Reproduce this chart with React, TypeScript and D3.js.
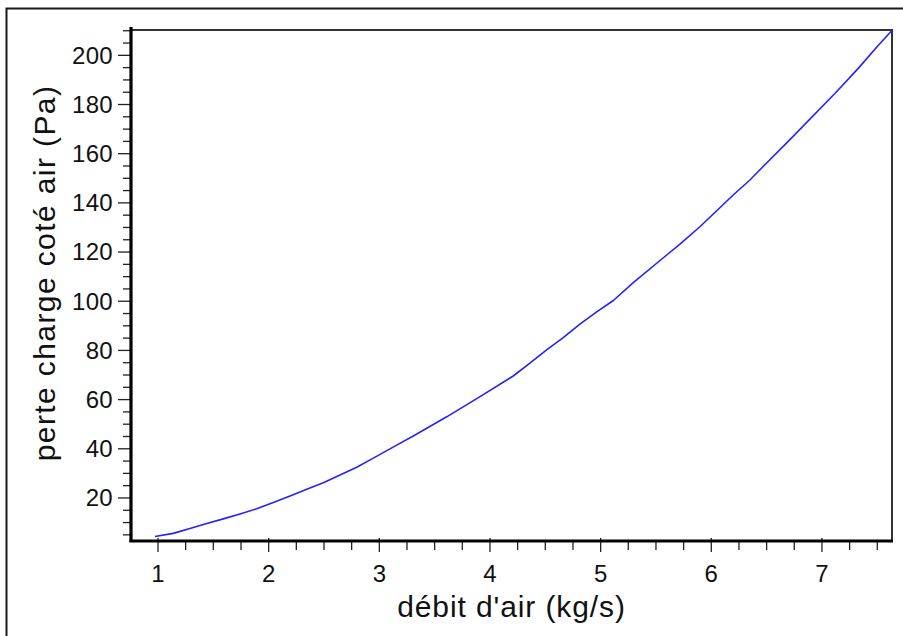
import React from "react";
import * as d3 from "d3";

// Air mass flow rate (kg/s) and air-side pressure drop (Pa)
const flowRate = [
  0.973, 1.138, 1.289, 1.44, 1.59, 1.741, 1.892, 2.042, 2.193, 2.344, 2.494,
  2.645, 2.796, 2.946, 3.157, 3.307, 3.609, 3.91, 4.21, 4.361, 4.512, 4.662,
  4.813, 4.964, 5.115, 5.295, 5.597, 5.717, 5.897, 6.198, 6.349, 6.5, 6.695,
  7.117, 7.328, 7.494, 7.63,
];
const pressureDrop = [
  4.3, 5.6, 7.6, 9.6, 11.5, 13.5, 15.6, 18.2, 20.8, 23.5, 26.2, 29.3, 32.5,
  36.2, 41.5, 45.2, 53.0, 61.2, 69.6, 74.8, 80.2, 85.2, 90.7, 95.7, 100.3,
  107.6, 118.8, 123.2, 130.3, 143.2, 149.3, 156.2, 165.0, 184.5, 194.7, 203.3,
  210.0,
];

const xMajorTicks = [1, 2, 3, 4, 5, 6, 7];
const yMajorTicks = [20, 40, 60, 80, 100, 120, 140, 160, 180, 200];
const xLabel = "débit d'air (kg/s)";
const yLabel = "perte charge coté air (Pa)";

const X_DOMAIN: [number, number] = [0.756, 7.633];
const Y_DOMAIN: [number, number] = [2.5, 210.3];

const W = 903;
const H = 636;
const plot = { left: 131, right: 892, top: 30, bottom: 541 };
const FONT = "'Liberation Sans', Arial, Helvetica, sans-serif";

export default function App() {
  const x = d3.scaleLinear().domain(X_DOMAIN).range([plot.left, plot.right]);
  const y = d3.scaleLinear().domain(Y_DOMAIN).range([plot.bottom, plot.top]);

  const points: [number, number][] = flowRate.map((v, i) => [v, pressureDrop[i]]);
  const line = d3
    .line<[number, number]>()
    .x((d) => x(d[0]))
    .y((d) => y(d[1]));

  const xMinor = d3
    .range(0.75, 7.76, 0.25)
    .filter((v) => v >= X_DOMAIN[0] && v <= X_DOMAIN[1])
    .filter((v) => !xMajorTicks.some((m) => Math.abs(m - v) < 1e-6));
  const yMinor = d3
    .range(5, 211, 5)
    .filter((v) => v >= Y_DOMAIN[0] && v <= Y_DOMAIN[1] + 0.5)
    .filter((v) => !yMajorTicks.some((m) => Math.abs(m - v) < 1e-6));

  const cx = (plot.left + plot.right) / 2;

  return (
    <svg
      width={W}
      height={H}
      style={{ position: "absolute", left: 0, top: 0, background: "#fff" }}
      fontFamily={FONT}
    >
      <rect x={0} y={0} width={W} height={H} fill="#fff" />
      {/* outer frame */}
      <rect
        x={6.5}
        y={8.5}
        width={W + 20}
        height={H + 20}
        fill="none"
        stroke="#1a1a1a"
        strokeWidth={2}
      />

      {/* top and right box edges */}
      <path
        d={`M${plot.left},${plot.top}H${plot.right}V${plot.bottom}`}
        fill="none"
        stroke="#333"
        strokeWidth={2}
      />

      {/* curve */}
      <path
        d={line(points) || ""}
        fill="none"
        stroke="#2222ff"
        strokeWidth={1.6}
        strokeLinejoin="round"
      />

      {/* y axis */}
      <g>
        {yMinor.map((v) => (
          <line
            key={`ym${v}`}
            x1={plot.left - 8}
            x2={plot.left}
            y1={y(v)}
            y2={y(v)}
            stroke="#222"
            strokeWidth={1.3}
          />
        ))}
        {yMajorTicks.map((v) => (
          <g key={`yM${v}`}>
            <line
              x1={plot.left - 13}
              x2={plot.left}
              y1={y(v)}
              y2={y(v)}
              stroke="#222"
              strokeWidth={1.3}
            />
            <text
              x={plot.left - 18}
              y={y(v)}
              dy="0.35em"
              textAnchor="end"
              fontSize={24}
              fill="#111"
              letterSpacing={0.3}
            >
              {v}
            </text>
          </g>
        ))}
        <line
          x1={plot.left}
          x2={plot.left}
          y1={plot.top - 3}
          y2={plot.bottom + 1}
          stroke="#000"
          strokeWidth={3.2}
        />
      </g>

      {/* x axis */}
      <g>
        {xMinor.map((v) => (
          <line
            key={`xm${v}`}
            x1={x(v)}
            x2={x(v)}
            y1={plot.bottom}
            y2={plot.bottom + 9}
            stroke="#222"
            strokeWidth={1.3}
          />
        ))}
        {xMajorTicks.map((v) => (
          <g key={`xM${v}`}>
            <line
              x1={x(v)}
              x2={x(v)}
              y1={plot.bottom - 3}
              y2={plot.bottom + 11}
              stroke="#222"
              strokeWidth={1.3}
            />
            <text
              x={x(v)}
              y={582}
              textAnchor="middle"
              fontSize={24}
              fill="#111"
            >
              {v}
            </text>
          </g>
        ))}
        <line
          x1={plot.left - 1.5}
          x2={plot.right + 1}
          y1={plot.bottom}
          y2={plot.bottom}
          stroke="#000"
          strokeWidth={3.2}
        />
      </g>

      {/* axis titles */}
      <text
        x={cx}
        y={617}
        textAnchor="middle"
        fontSize={30}
        fill="#111"
        letterSpacing={0.9}
      >
        {xLabel}
      </text>
      <text
        transform={`translate(54.5,273) rotate(-90)`}
        textAnchor="middle"
        fontSize={30}
        fill="#111"
        letterSpacing={1.4}
      >
        {yLabel}
      </text>
    </svg>
  );
}
